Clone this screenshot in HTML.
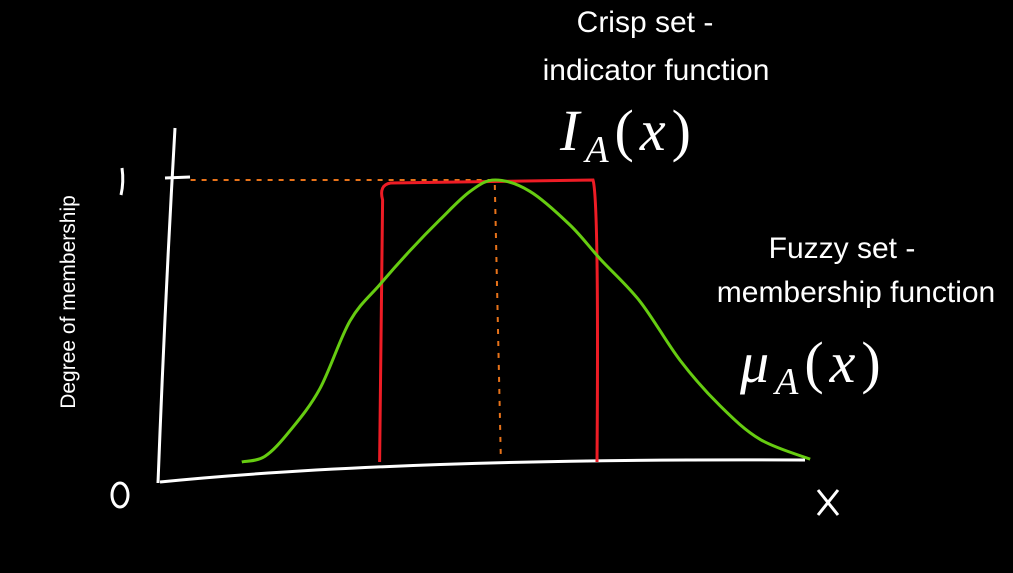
<!DOCTYPE html>
<html><head><meta charset="utf-8"><style>
html,body{margin:0;padding:0;background:#000;}
svg{display:block;}
text{font-family:"Liberation Sans",sans-serif;fill:#fff;}
.math{font-family:"Liberation Serif",serif;font-style:italic;}
</style></head><body>
<svg id="chart" width="1013" height="573" viewBox="0 0 1013 573">
<rect width="1013" height="573" fill="#000"/>
<path d="M175 128 Q165 300 158 483" stroke="#fff" stroke-width="3" fill="none"/>
<path d="M160 482 Q400 458 805 460" stroke="#fff" stroke-width="3" fill="none"/>
<path d="M165 178 L190 177" stroke="#fff" stroke-width="3"/>
<path d="M122 168 Q124 182 121 195" stroke="#fff" stroke-width="3" fill="none"/>
<ellipse cx="120" cy="495" rx="8" ry="12" stroke="#fff" stroke-width="3" fill="none"/>
<path d="M818 490 L838 515 M838 490 L818 515" stroke="#fff" stroke-width="3"/>
<g id="marks"></g>
<text x="75" y="302" font-size="21" text-anchor="middle" transform="rotate(-90 75 302)">Degree of membership</text>
<text x="645" y="32" font-size="30" text-anchor="middle">Crisp set -</text>
<text x="656" y="80" font-size="30" text-anchor="middle">indicator function</text>
<text x="560" y="150" font-size="58" class="math" letter-spacing="6">I<tspan font-size="38" dy="12">A</tspan><tspan dy="-12" font-style="normal">(</tspan>x<tspan font-style="normal">)</tspan></text>
<text x="842" y="258" font-size="30" text-anchor="middle">Fuzzy set -</text>
<text x="856" y="302" font-size="30" text-anchor="middle">membership function</text>
<text x="740" y="382" font-size="58" class="math" letter-spacing="6">μ<tspan font-size="38" dy="12">A</tspan><tspan dy="-12" font-style="normal">(</tspan>x<tspan font-style="normal">)</tspan></text>
</svg>
<script>
const fuzzyX = [1.2,1.56,1.95,2.42,2.89,3.36,3.83,4.3,4.77,5.16,5.7,6.33,6.8,7.42,8.05,8.67,9.3,10.08];
const fuzzyY = [0,0.02,0.11,0.26,0.5,0.63,0.75,0.86,0.96,1,0.96,0.84,0.72,0.57,0.36,0.2,0.08,0.01];
const crispBounds = [3.4, 6.75];
const crispHeight = [1];
const peakX = [5.2];
function sx(v){return 165 + v*64;}
function sy(v){return 462 - v*282;}
const NS="http://www.w3.org/2000/svg";
const g=document.getElementById('marks');
function mk(tag,attrs){const e=document.createElementNS(NS,tag);for(const k in attrs)e.setAttribute(k,attrs[k]);g.appendChild(e);return e;}
let o1=mk('path',{d:`M${sx(0.4)} ${sy(crispHeight[0])} L${sx(peakX[0])} ${sy(crispHeight[0])}`,stroke:'#e8731a','stroke-width':2,'stroke-dasharray':'5 6',fill:'none'});


let o2=mk('path',{d:`M${sx(peakX[0])-3} ${sy(crispHeight[0])+5} L${sx(peakX[0])+3} ${sy(0)-5}`,stroke:'#e8731a','stroke-width':2,'stroke-dasharray':'5 7',fill:'none'});


const l=sx(crispBounds[0]), r=sx(crispBounds[1]), t=sy(crispHeight[0]), b=sy(0);
let red=mk('path',{d:`M${l-3} ${b} L${l} ${t+20} Q${l-4} ${t+5} ${l+8} ${t+3} L${r-4} ${t} Q${r+2} ${t+20} ${r} ${b}`,stroke:'#ee1c25','stroke-width':3,fill:'none'});


const P=fuzzyX.map((x,i)=>[sx(x),sy(fuzzyY[i])]);
let d='M'+P[0][0]+' '+P[0][1];
for(let i=0;i<P.length-1;i++){
  const p0=P[Math.max(0,i-1)],p1=P[i],p2=P[i+1],p3=P[Math.min(P.length-1,i+2)];
  const c1=[p1[0]+(p2[0]-p0[0])/6,p1[1]+(p2[1]-p0[1])/6];
  const c2=[p2[0]-(p3[0]-p1[0])/6,p2[1]-(p3[1]-p1[1])/6];
  d+=` C${c1[0]} ${c1[1]} ${c2[0]} ${c2[1]} ${p2[0]} ${p2[1]}`;
}
let gr=mk('path',{d:d,stroke:'#66cc11','stroke-width':3,fill:'none','stroke-linejoin':'round'});


</script>
</body></html>
